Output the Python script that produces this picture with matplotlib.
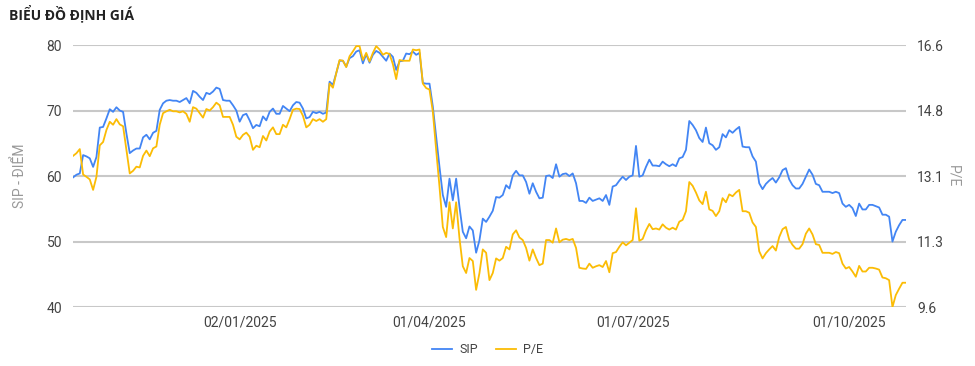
import matplotlib.pyplot as plt

# SIP index (diem), one value per trading day
sip = [59.8, 60.2, 60.4, 63.2, 63.0, 62.7, 61.4, 62.9, 67.4, 67.5,
       68.8, 70.2, 69.8, 70.5, 70.0, 69.8, 66.5, 63.5, 63.9, 64.2,
       64.2, 65.9, 66.3, 65.6, 66.6, 66.9, 70.1, 71.1, 71.5, 71.6,
       71.5, 71.5, 71.3, 71.6, 71.9, 71.1, 73.0, 72.7, 72.1, 71.6,
       72.7, 72.5, 72.9, 73.5, 73.3, 71.6, 71.5, 71.5, 70.8, 70.0,
       68.3, 69.3, 69.5, 68.5, 67.3, 67.8, 67.6, 69.1, 68.5, 69.8,
       70.3, 69.5, 69.5, 70.7, 70.3, 69.9, 70.8, 71.3, 71.2, 70.3,
       68.8, 69.0, 69.8, 69.6, 69.8, 69.5, 69.7, 74.4, 73.9, 75.7,
       77.6, 77.6, 76.7, 78.0, 78.3, 79.0, 79.2, 77.2, 78.6, 77.3,
       78.5, 79.1, 78.8, 78.2, 77.6, 78.7, 78.2, 76.2, 77.5, 77.6,
       78.7, 78.6, 79.0, 78.5, 78.8, 74.2, 74.1, 74.1, 70.6, 66.0,
       61.4, 57.1, 55.3, 59.6, 56.3, 59.6, 55.3, 51.5, 50.5, 52.3,
       51.7, 48.3, 50.2, 53.5, 53.0, 53.8, 54.7, 56.8, 56.7, 57.1,
       58.6, 58.1, 60.1, 60.8, 60.1, 60.1, 59.1, 57.3, 58.9, 57.6,
       56.6, 56.7, 60.0, 60.1, 59.7, 61.8, 59.9, 60.3, 60.4, 60.0,
       60.4, 58.9, 56.2, 56.2, 55.9, 56.7, 56.2, 56.4, 56.6, 56.2,
       57.1, 55.6, 58.4, 58.6, 59.3, 59.9, 59.4, 59.9, 60.1, 64.6,
       59.9, 60.1, 61.4, 62.5, 61.6, 61.6, 61.5, 62.2, 61.8, 61.5,
       61.8, 61.5, 62.7, 62.9, 64.0, 68.4, 67.8, 67.0, 65.8, 65.2,
       67.4, 65.0, 64.7, 64.0, 64.4, 66.4, 65.9, 67.0, 66.6, 67.1,
       67.5, 64.5, 64.4, 64.4, 63.0, 62.2, 58.9, 58.0, 58.8, 59.3,
       59.7, 59.0, 59.8, 60.9, 61.2, 59.5, 58.6, 58.1, 58.1, 58.8,
       59.9, 61.0, 60.2, 58.8, 58.6, 57.6, 57.6, 57.6, 57.4, 57.6,
       57.4, 55.8, 55.3, 55.6, 55.1, 53.9, 55.8, 54.9, 54.9, 55.6,
       55.6, 55.4, 55.2, 54.1, 54.1, 53.8, 50.0, 51.5, 52.5, 53.3,
       53.3]

pe = [13.64, 13.71, 13.82, 13.14, 13.08, 13.01, 12.73, 13.08, 13.92, 14.01,
      14.33, 14.55, 14.47, 14.62, 14.48, 14.43, 13.80, 13.17, 13.24, 13.35,
      13.33, 13.64, 13.78, 13.63, 13.84, 13.89, 14.47, 14.78, 14.83, 14.87,
      14.83, 14.83, 14.80, 14.83, 14.76, 14.55, 14.94, 14.90, 14.78, 14.66,
      14.89, 14.85, 14.94, 15.06, 14.99, 14.68, 14.68, 14.68, 14.47, 14.15,
      14.08, 14.20, 14.26, 14.15, 13.80, 13.91, 13.87, 14.17, 14.05, 14.29,
      14.40, 14.22, 14.22, 14.47, 14.40, 14.62, 14.87, 14.90, 14.89, 14.71,
      14.40, 14.47, 14.62, 14.57, 14.62, 14.55, 14.62, 15.57, 15.46, 15.85,
      16.20, 16.18, 16.01, 16.30, 16.43, 16.57, 16.57, 16.20, 16.39, 16.16,
      16.39, 16.57, 16.48, 16.34, 16.39, 16.36, 16.09, 15.69, 16.20, 16.18,
      16.18, 16.18, 16.48, 16.46, 16.48, 15.57, 15.45, 15.41, 14.82, 13.80,
      12.82, 11.74, 11.47, 12.40, 11.70, 12.40, 11.44, 10.69, 10.51, 10.91,
      10.83, 10.06, 10.51, 11.14, 11.05, 10.32, 10.51, 10.90, 10.84, 10.91,
      11.21, 11.14, 11.54, 11.65, 11.46, 11.39, 11.18, 10.84, 11.14, 10.91,
      10.72, 10.76, 11.39, 11.39, 11.32, 11.70, 11.33, 11.40, 11.42, 11.39,
      11.42, 11.18, 10.65, 10.63, 10.62, 10.76, 10.65, 10.69, 10.72, 10.67,
      10.83, 10.53, 11.04, 11.07, 11.21, 11.33, 11.25, 11.32, 11.39, 12.24,
      11.37, 11.42, 11.65, 11.82, 11.68, 11.70, 11.67, 11.81, 11.72, 11.67,
      11.72, 11.67, 11.88, 11.93, 12.16, 12.94, 12.84, 12.66, 12.45, 12.35,
      12.68, 12.21, 12.17, 12.03, 12.16, 12.51, 12.40, 12.61, 12.56, 12.66,
      12.73, 12.16, 12.16, 12.12, 11.86, 11.74, 11.09, 10.90, 11.04, 11.14,
      11.23, 11.11, 11.47, 11.68, 11.74, 11.40, 11.26, 11.16, 11.16, 11.28,
      11.56, 11.70, 11.54, 11.28, 11.26, 11.05, 11.05, 11.05, 11.02, 11.07,
      11.04, 10.76, 10.63, 10.67, 10.55, 10.41, 10.70, 10.55, 10.55, 10.65,
      10.65, 10.63, 10.60, 10.39, 10.37, 10.32, 9.60, 9.92, 10.09, 10.25,
      10.25]

date_idx = [50, 107, 168, 233]
date_labels = ["02/01/2025", "01/04/2025", "01/07/2025", "01/10/2025"]
sip_ticks = [40, 50, 60, 70, 80]
pe_ticks = [9.6, 11.35, 13.1, 14.85, 16.6]
pe_labels = ["9.6", "11.3", "13.1", "14.8", "16.6"]

plt.rcParams['font.family'] = ['Roboto', 'DejaVu Sans']

fig = plt.figure(figsize=(9.75, 3.66), dpi=100)
ax = fig.add_axes([0.075, 0.161, 0.854, 0.716])
ax2 = ax.twinx()

x = list(range(len(sip)))
l1, = ax.plot(x, sip, color="#4285F4", lw=1.3, label="SIP")
l2, = ax2.plot(x, pe, color="#FBBC05", lw=1.3, label="P/E")

ax.set_xlim(0, len(sip) - 1)
ax.set_ylim(40, 80)
ax2.set_ylim(9.6, 16.6)
ax.set_yticks(sip_ticks)
ax2.set_yticks(pe_ticks)
ax2.set_yticklabels(pe_labels)
ax.set_xticks(date_idx)
ax.set_xticklabels(date_labels)

ax.grid(axis="y", color="#c8c8c8", lw=1.5)
ax.set_axisbelow(True)
for a in (ax, ax2):
    for s in a.spines.values():
        s.set_visible(False)
    a.tick_params(length=0, labelsize=10, labelcolor="#444444")
ax.tick_params(axis="y", pad=8)
ax2.tick_params(axis="y", pad=8)
ax.tick_params(axis="x", pad=6)

ax.set_ylabel("SIP - ĐIỂM", color="#999999", fontsize=10, labelpad=14)
ax2.set_ylabel("P/E", color="#999999", fontsize=10, rotation=270, labelpad=12)

fig.text(0.009, 0.963, "BIỂU ĐỒ ĐỊNH GIÁ", fontsize=10, fontweight="bold",
         family=["Open Sans", "DejaVu Sans"], va="center", color="#222222")

fig.legend([l1, l2], ["SIP", "P/E"], loc="center", bbox_to_anchor=(0.5, 0.045),
           ncol=2, frameon=False, fontsize=9, handlelength=1.6, handletextpad=0.6,
           columnspacing=1.4, labelcolor="#444444")

fig.savefig("out.png", dpi=100)
